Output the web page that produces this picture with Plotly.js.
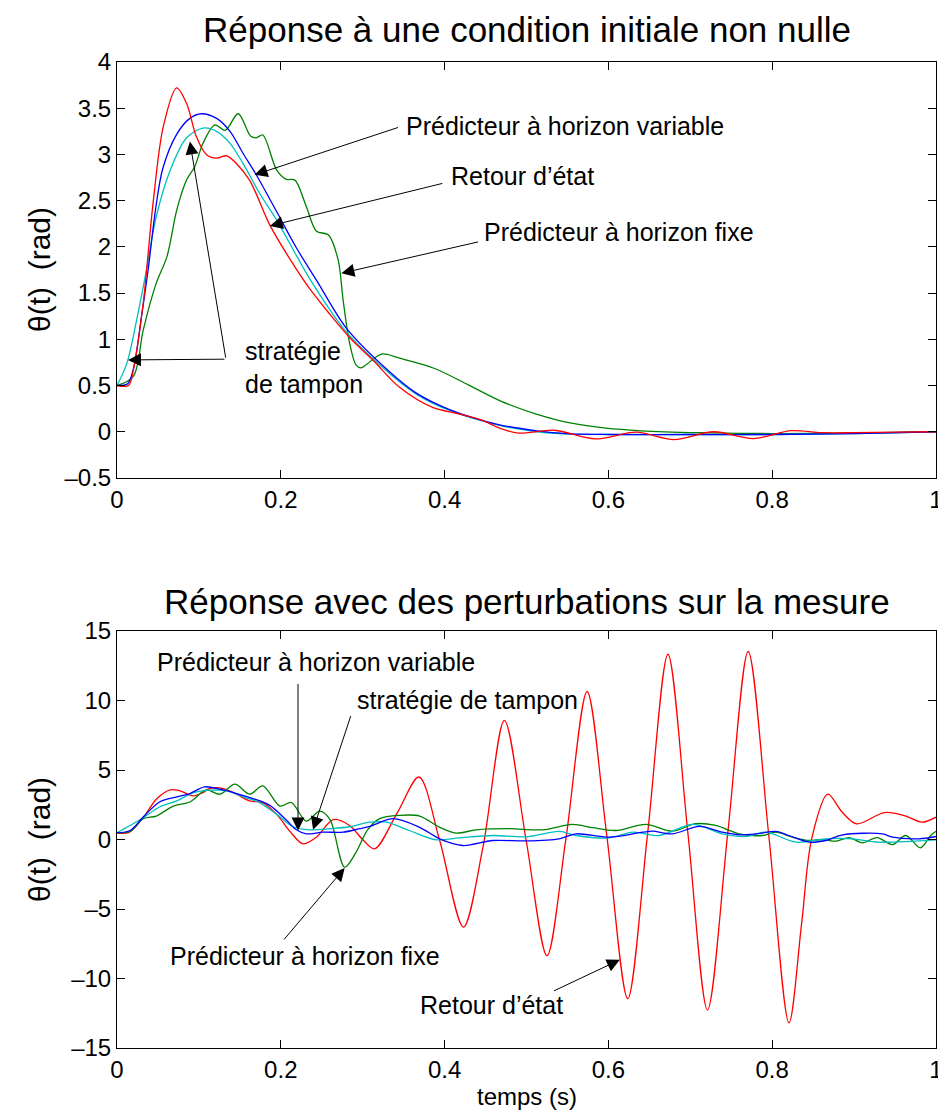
<!DOCTYPE html>
<html>
<head>
<meta charset="utf-8">
<script src="https://cdn.plot.ly/plotly-3.0.1.min.js"></script>
<style>html,body{margin:0;padding:0;background:#fff}#chart{width:938px;height:1111px}</style>
</head>
<body>
<div id="chart"></div>
<script>
// ---------- Top plot: response to a non-zero initial condition ----------
const tTopRed = [0, 0.014, 0.02, 0.032, 0.044, 0.0565, 0.0728, 0.085, 0.097, 0.109, 0.1216, 0.134, 0.146, 0.162, 0.187, 0.211, 0.235, 0.26, 0.284, 0.313, 0.345, 0.386, 0.414, 0.43, 0.447, 0.467, 0.49, 0.534, 0.584, 0.634, 0.68, 0.7285, 0.777, 0.823, 0.86, 0.9, 0.95, 1.0];
const vTopRed = [0.5, 0.5, 0.67, 1.39, 2.47, 3.30, 3.72, 3.55, 3.19, 3.0, 2.96, 2.985, 2.9, 2.72, 2.23, 1.87, 1.55, 1.27, 1.02, 0.77, 0.48, 0.26, 0.2, 0.165, 0.12, 0.04, -0.015, 0.016, -0.078, -0.005, -0.085, 0.0, -0.074, 0.012, -0.01, -0.01, -0.005, 0.0];

const tTopBlue = [0, 0.013, 0.02, 0.03, 0.038, 0.047, 0.056, 0.073, 0.089, 0.103, 0.1216, 0.138, 0.154, 0.170, 0.195, 0.219, 0.2435, 0.28, 0.325, 0.365, 0.406, 0.467, 0.513, 0.55, 0.6, 0.7, 0.8, 0.9, 1.0];
const vTopBlue = [0.5, 0.52, 0.68, 1.25, 1.75, 2.4, 2.85, 3.22, 3.39, 3.44, 3.39, 3.25, 3.01, 2.78, 2.38, 1.99, 1.64, 1.12, 0.71, 0.42, 0.24, 0.075, 0.01, -0.02, -0.03, -0.03, -0.03, -0.02, 0.0];

const tTopCyan = [0, 0.012, 0.024, 0.036, 0.048, 0.065, 0.085, 0.105, 0.1216, 0.138, 0.154, 0.174, 0.195, 0.235, 0.28, 0.325, 0.365, 0.406, 0.467, 0.513, 0.55, 0.6, 0.7, 0.8, 0.9, 1.0];
const vTopCyan = [0.5, 0.74, 1.21, 1.75, 2.33, 2.83, 3.18, 3.285, 3.25, 3.12, 2.9, 2.58, 2.29, 1.66, 1.08, 0.69, 0.41, 0.23, 0.07, 0.0, -0.025, -0.03, -0.03, -0.03, -0.02, 0.0];

const tTopGreen = [0, 0.02, 0.032, 0.048, 0.061, 0.073, 0.085, 0.095, 0.105, 0.1195, 0.132, 0.148, 0.163, 0.170, 0.178, 0.195, 0.207, 0.217, 0.231, 0.2435, 0.258, 0.27, 0.276, 0.284, 0.292, 0.298, 0.305, 0.323, 0.345, 0.387, 0.429, 0.47, 0.513, 0.555, 0.597, 0.64, 0.71, 0.8, 0.9, 1.0];
const vTopGreen = [0.5, 0.6, 1.10, 1.61, 1.895, 2.40, 2.725, 2.87, 3.12, 3.32, 3.26, 3.44, 3.2, 3.18, 3.21, 2.83, 2.73, 2.725, 2.44, 2.17, 2.13, 1.86, 1.43, 0.96, 0.72, 0.69, 0.73, 0.84, 0.795, 0.687, 0.507, 0.326, 0.189, 0.092, 0.038, 0.01, -0.01, -0.02, -0.015, 0.0];

// ---------- Bottom plot: response with measurement disturbances ----------
const tBotRed = [0, 0.014, 0.032, 0.048, 0.065, 0.077, 0.093, 0.105, 0.113, 0.13, 0.146, 0.162, 0.178, 0.195, 0.211, 0.227, 0.2435, 0.264, 0.284, 0.3, 0.3146, 0.342, 0.3687, 0.394, 0.423, 0.447, 0.473, 0.4996, 0.525, 0.548, 0.574, 0.598, 0.6236, 0.648, 0.6727, 0.697, 0.721, 0.746, 0.7707, 0.796, 0.8205, 0.836, 0.848, 0.8678, 0.885, 0.903, 0.937, 0.963, 0.9825, 1.0];
const vBotRed = [0.49, 0.49, 1.57, 2.9, 3.57, 3.5, 3.14, 3.38, 3.67, 3.67, 3.26, 2.78, 2.66, 1.81, 0.6, -0.31, 0.17, 1.43, 1.01, 0.0, -0.67, 1.9, 4.5, -0.07, -6.3, -0.5, 8.57, -0.07, -8.36, 0.0, 10.65, 0.3, -11.45, 0.5, 13.33, 0.5, -12.27, 0.6, 13.53, 0.2, -13.19, -6.0, 0.0, 3.26, 2.0, 1.13, 1.94, 1.69, 1.25, 1.61];

const tBotBlue = [0, 0.016, 0.032, 0.052, 0.073, 0.089, 0.107, 0.1256, 0.146, 0.166, 0.1866, 0.207, 0.219, 0.231, 0.2516, 0.276, 0.296, 0.3085, 0.337, 0.3695, 0.394, 0.4223, 0.459, 0.4996, 0.54, 0.5606, 0.601, 0.642, 0.654, 0.678, 0.711, 0.739, 0.76, 0.78, 0.8045, 0.82, 0.845, 0.8655, 0.886, 0.9345, 0.947, 0.979, 1.0];
const vBotBlue = [0.49, 0.65, 1.62, 2.7, 3.07, 3.31, 3.79, 3.62, 3.31, 2.95, 2.46, 1.38, 0.70, 0.41, 0.53, 0.53, 0.78, 0.94, 1.5, 0.88, 0.05, -0.43, -0.07, -0.1, 0.05, 0.41, 0.17, 0.53, 0.6, 0.41, 0.94, 0.53, 0.34, 0.4, 0.58, 0.29, -0.19, -0.07, 0.34, 0.41, 0.17, 0.05, 0.22];

const tBotCyan = [0, 0.016, 0.032, 0.052, 0.073, 0.093, 0.113, 0.134, 0.154, 0.174, 0.195, 0.215, 0.235, 0.26, 0.284, 0.3085, 0.329, 0.357, 0.39, 0.418, 0.459, 0.4996, 0.54, 0.5606, 0.601, 0.63, 0.662, 0.703, 0.739, 0.768, 0.792, 0.829, 0.8655, 0.898, 0.93, 1.0];
const vBotCyan = [0.49, 1.01, 1.57, 2.34, 2.78, 3.36, 3.55, 3.5, 3.07, 2.66, 1.81, 0.92, 0.70, 0.78, 0.92, 1.25, 1.25, 0.65, -0.02, 0.12, 0.29, 0.2, 0.58, 0.29, 0.12, 0.53, 0.29, 1.09, 0.41, 0.22, 0.53, -0.19, 0.05, 0.05, -0.19, -0.02];

const tBotGreen = [0, 0.016, 0.032, 0.048, 0.0687, 0.089, 0.109, 0.1256, 0.144, 0.162, 0.178, 0.199, 0.213, 0.231, 0.2476, 0.26, 0.278, 0.292, 0.306, 0.3207, 0.345, 0.3695, 0.394, 0.414, 0.4387, 0.479, 0.52, 0.556, 0.581, 0.609, 0.646, 0.678, 0.707, 0.731, 0.76, 0.788, 0.8045, 0.825, 0.845, 0.861, 0.878, 0.894, 0.91, 0.928, 0.947, 0.963, 0.981, 0.9935, 1.0];
const vBotGreen = [0.49, 0.58, 1.5, 1.69, 2.41, 2.70, 3.57, 3.26, 3.99, 3.26, 3.86, 2.41, 2.66, 1.33, 2.05, 1.45, -1.99, -0.9, 0.7, 1.5, 1.74, 1.69, 0.88, 0.46, 0.7, 0.78, 0.7, 1.09, 0.85, 0.65, 1.09, 0.60, 1.14, 1.01, 0.41, 0.29, 0.53, 0.17, -0.07, 0.0, -0.12, 0.14, -0.24, 0.14, -0.36, 0.29, -0.6, 0.29, 0.6];

// ---------- Tick labels ----------
const xTickVals = [0, 0.2, 0.4, 0.6, 0.8, 1];
const xTickText = ['0', '0.2', '0.4', '0.6', '0.8', '1'];
const yTopTickVals = [-0.5, 0, 0.5, 1, 1.5, 2, 2.5, 3, 3.5, 4];
const yTopTickText = ['\u20130.5', '0', '0.5', '1', '1.5', '2', '2.5', '3', '3.5', '4'];
const yBotTickVals = [-15, -10, -5, 0, 5, 10, 15];
const yBotTickText = ['\u201315', '\u201310', '\u20135', '0', '5', '10', '15'];

// ---------- Texts ----------
const titleTop = 'Réponse à une condition initiale non nulle';
const titleBot = 'Réponse avec des perturbations sur la mesure';
const yTitle = 'θ(t)\u00a0 (rad)';
const xTitle = 'temps (s)';
const labVar = 'Prédicteur à horizon variable';
const labRet = 'Retour d\u2019état';
const labFix = 'Prédicteur à horizon fixe';
const labTamp2 = 'stratégie<br>de tampon';
const labTamp1 = 'stratégie de tampon';

const FONT = 'Liberation Sans, Arial, Helvetica, sans-serif';
const cRed = '#ff0000', cBlue = '#0000ff', cGreen = '#008000', cCyan = '#00bfbf';

function tr(x, y, c, xa, ya) {
  return {x: x, y: y, xaxis: xa, yaxis: ya, type: 'scatter', mode: 'lines',
          line: {color: c, width: 1.3, shape: 'spline', smoothing: 0.9}, hoverinfo: 'skip'};
}
const data = [
  tr(tTopGreen, vTopGreen, cGreen, 'x', 'y'),
  tr(tTopCyan, vTopCyan, cCyan, 'x', 'y'),
  tr(tTopBlue, vTopBlue, cBlue, 'x', 'y'),
  tr(tTopRed, vTopRed, cRed, 'x', 'y'),
  tr(tBotRed, vBotRed, cRed, 'x2', 'y2'),
  tr(tBotGreen, vBotGreen, cGreen, 'x2', 'y2'),
  tr(tBotCyan, vBotCyan, cCyan, 'x2', 'y2'),
  tr(tBotBlue, vBotBlue, cBlue, 'x2', 'y2')
];

const axBase = {showline: true, mirror: 'ticks', linecolor: 'black', linewidth: 1,
  ticks: 'inside', ticklen: 8, tickcolor: 'black', tickwidth: 1, showgrid: false, zeroline: false,
  tickfont: {family: FONT, size: 24, color: 'black'}, automargin: false, fixedrange: true,
  ticklabeloverflow: 'allow'};

function txt(x, y, xr, yr, s, size, extra) {
  return Object.assign({x: x, y: y, xref: xr, yref: yr, text: s, showarrow: false,
    font: {family: FONT, size: size, color: 'black'}, xanchor: 'left', yanchor: 'middle', align: 'left'}, extra || {});
}
function arr(x, y, ax, ay, xr, yr) {
  return {x: x, y: y, ax: ax, ay: ay, xref: xr, yref: yr, axref: xr, ayref: yr, text: '',
    showarrow: true, arrowhead: 2, arrowsize: 2.6, arrowwidth: 1, arrowcolor: 'black', standoff: 0, startstandoff: 0};
}

const LAB = 25;
const annotations = [
  // titles
  txt(0.5, 0.973, 'paper', 'paper', titleTop, 35, {xanchor: 'center'}),
  txt(0.5, 0.459, 'paper', 'paper', titleBot, 35, {xanchor: 'center'}),
  txt(-0.094, 0.757, 'paper', 'paper', yTitle, 30, {xanchor: 'center', textangle: -90}),
  txt(-0.094, 0.244, 'paper', 'paper', yTitle, 30, {xanchor: 'center', textangle: -90}),
  txt(0.5, 0.0135, 'paper', 'paper', xTitle, 24, {xanchor: 'center'}),
  // top labels
  txt(0.351, 3.31, 'x', 'y', labVar, LAB),
  txt(0.405, 2.77, 'x', 'y', labRet, LAB),
  txt(0.446, 2.16, 'x', 'y', labFix, LAB),
  txt(0.1537, 0.69, 'x', 'y', labTamp2, LAB),
  arr(0.168, 2.779, 0.345, 3.297, 'x', 'y'),
  arr(0.1866, 2.227, 0.399, 2.69, 'x', 'y'),
  arr(0.274, 1.715, 0.4427, 2.057, 'x', 'y'),
  arr(0.0134, 0.777, 0.133, 0.785, 'x', 'y'),
  arr(0.089, 3.14, 0.133, 0.785, 'x', 'y'),
  // bottom labels
  txt(0.0463, 12.75, 'x2', 'y2', labVar, LAB),
  txt(0.290, 10.07, 'x2', 'y2', labTamp1, LAB),
  txt(0.062, -8.4, 'x2', 'y2', labFix, LAB),
  txt(0.367, -11.88, 'x2', 'y2', labRet, LAB),
  arr(0.221, 0.65, 0.221, 11.3, 'x2', 'y2'),
  arr(0.2394, 0.70, 0.286, 8.99, 'x2', 'y2'),
  arr(0.278, -2.05, 0.2024, -7.3, 'x2', 'y2'),
  arr(0.614, -8.65, 0.5317, -10.94, 'x2', 'y2')
];

const layout = {
  width: 938, height: 1111, showlegend: false,
  paper_bgcolor: 'white', plot_bgcolor: 'white',
  margin: {l: 117, r: 2, t: 0, b: 0},
  xaxis: Object.assign({}, axBase, {domain: [0, 1], range: [0, 1], tickvals: xTickVals, ticktext: xTickText, anchor: 'y'}),
  yaxis: Object.assign({}, axBase, {domain: [0.5698, 0.9442], range: [-0.5, 4], tickvals: yTopTickVals, ticktext: yTopTickText, anchor: 'x'}),
  xaxis2: Object.assign({}, axBase, {domain: [0, 1], range: [0, 1], tickvals: xTickVals, ticktext: xTickText, anchor: 'y2'}),
  yaxis2: Object.assign({}, axBase, {domain: [0.0567, 0.4320], range: [-15, 15], tickvals: yBotTickVals, ticktext: yBotTickText, anchor: 'x2'}),
  annotations: annotations
};

Plotly.newPlot('chart', data, layout, {staticPlot: true, displayModeBar: false});
</script>
</body>
</html>
